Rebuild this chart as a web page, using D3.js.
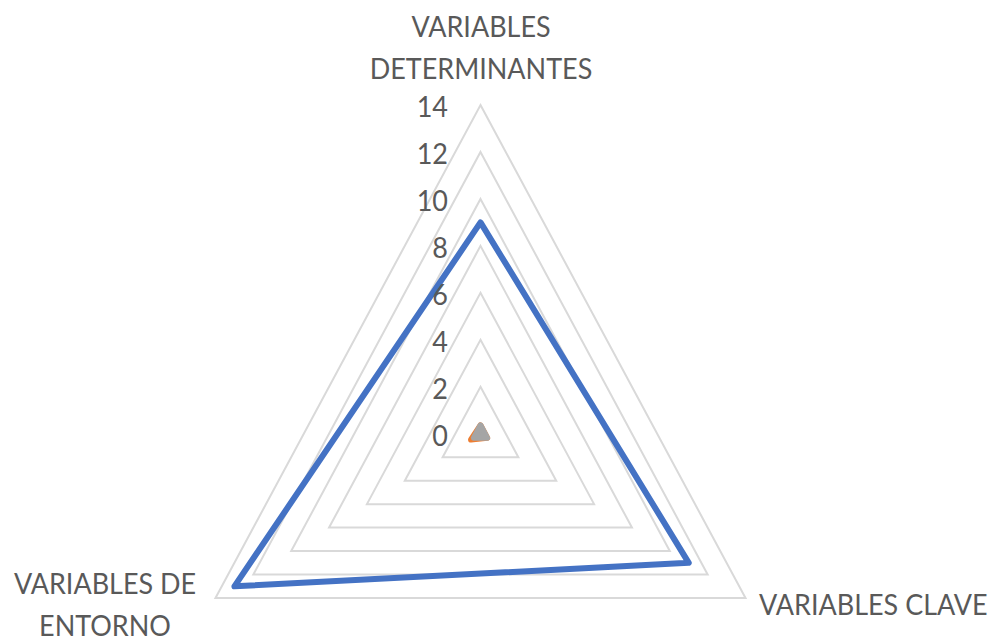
<!DOCTYPE html>
<html>
<head>
<meta charset="utf-8">
<script src="https://cdn.jsdelivr.net/npm/d3@7"></script>
<style>
  body { margin: 0; background: #fff; }
  text { font-family: Lato, "Liberation Sans", sans-serif; fill: #595959; }
</style>
</head>
<body>
<div id="vis"></div>
<script>
// data
var axes = [["VARIABLES", "DETERMINANTES"], ["VARIABLES CLAVE"], ["VARIABLES DE", "ENTORNO"]];
var ticks = [0, 2, 4, 6, 8, 10, 12, 14];
var serie1 = [9, 11, 13];
var serie2 = [0.35, 0.35, 0.5];
var serie3 = [0.35, 0.35, 0.35];

var width = 993, height = 638;
var cx = 480.5, cy = 433.7;
var kx = 0.931; // picture is a bit squashed horizontally

var svg = d3.select("#vis")
    .append("svg")
    .attr("width", width)
    .attr("height", height);

var r = d3.scaleLinear().domain([0, 14]).range([0, 328.7]);
var angle = d3.scaleLinear().domain([0, axes.length]).range([0, 2 * Math.PI]);

function pt(v, i) {
    var a = angle(i);
    return [cx + kx * r(v) * Math.sin(a), cy - r(v) * Math.cos(a)];
}

var line = d3.line().curve(d3.curveLinearClosed);

// grid
svg.append("g")
    .selectAll("path")
    .data(ticks.slice(1))
    .enter()
    .append("path")
    .attr("d", t => line(axes.map((d, i) => pt(t, i))))
    .attr("fill", "none")
    .attr("stroke", "#d9d9d9")
    .attr("stroke-width", 2);

// series
var series = [
    { values: serie1, color: "#4472c4", fill: false },
    { values: serie2, color: "#ed7d31", fill: true },
    { values: serie3, color: "#a5a5a5", fill: true }
];
svg.append("g")
    .selectAll("path")
    .data(series)
    .enter()
    .append("path")
    .attr("d", s => line(s.values.map((v, i) => pt(v, i))))
    .attr("fill", s => s.fill ? s.color : "none")
    .attr("stroke", s => s.color)
    .attr("stroke-width", 6)
    .attr("stroke-linejoin", "round");

var squash = 0.93;
function place(sel, x, y) {
    sel.attr("transform", "translate(" + x + "," + y + ") scale(" + squash + ",1)");
}

// tick labels
svg.append("g")
    .selectAll("text")
    .data(ticks)
    .enter()
    .append("text")
    .attr("text-anchor", "end")
    .attr("dy", "0.36em")
    .style("font-size", "29px")
    .text(d => d)
    .each(function (d) { place(d3.select(this), 448, pt(d, 0)[1] + 2); });

// category labels
var labelPos = [
    { x: 481, y: 27, anchor: "middle" },
    { x: 759, y: 605, anchor: "start" },
    { x: 105, y: 584, anchor: "middle" }
];
axes.forEach(function (lines, i) {
    var p = labelPos[i];
    lines.forEach(function (t, j) {
        svg.append("text")
            .attr("text-anchor", p.anchor)
            .attr("dy", "0.36em")
            .style("font-size", "29px")
            .text(t)
            .call(place, p.x, p.y + j * 42);
    });
});
</script>
</body>
</html>
